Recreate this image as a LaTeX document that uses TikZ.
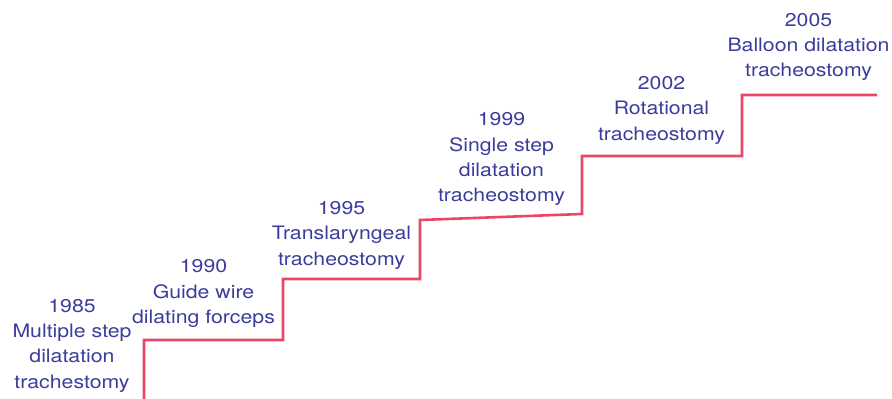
\documentclass[tikz,border=0pt]{standalone}
\usepackage{fontspec}
\setmainfont{TeX Gyre Heros}[FakeStretch=1.15]
\usepackage{tikz}
\usetikzlibrary{positioning}
\definecolor{stepred}{RGB}{234,70,104}
\definecolor{labelblue}{RGB}{60,60,156}
\tikzset{
  milestone/.style={text=labelblue, align=center, anchor=base, inner sep=0pt,
    font=\fontsize{18.5}{25.3}\selectfont},
  stairline/.style={draw=stepred, line width=2.6pt}
}

\begin{document}
\begin{tikzpicture}[x=1pt,y=-1pt]
  \useasboundingbox (0,0) rectangle (892,399);
  % corners of the stairs
  \coordinate (st0) at (144,399);
  \coordinate (st1) at (283,340);
  \coordinate (st2) at (420,279);
  \coordinate (st3) at (420,220);
  \coordinate (st4) at (582,214);
  \coordinate (st5) at (742,156);
  \coordinate (st6) at (877,95);
  \draw[stairline] (st0) |- (st1) |- (st2) -- (st3) -- (st4) |- (st5) |- (st6);
  % milestones (anchored at the baseline of the last line)
  \node[milestone] (y85) at (72,388) {1985\\Multiple step\\dilatation\\trachestomy};
  \node[milestone] (y90) at (203.5,323.3) {1990\\Guide wire\\dilating forceps};
  \node[milestone] (y95) at (341.5,265) {1995\\Translaryngeal\\tracheostomy};
  \node[milestone] (y99) at (501.5,201.7) {1999\\Single step\\dilatation\\tracheostomy};
  \node[milestone] (y02) at (661.5,140) {2002\\Rotational\\tracheostomy};
  \node[milestone] (y05) at (808.5,76.7) {2005\\Balloon dilatation\\tracheostomy};
\end{tikzpicture}
\end{document}
